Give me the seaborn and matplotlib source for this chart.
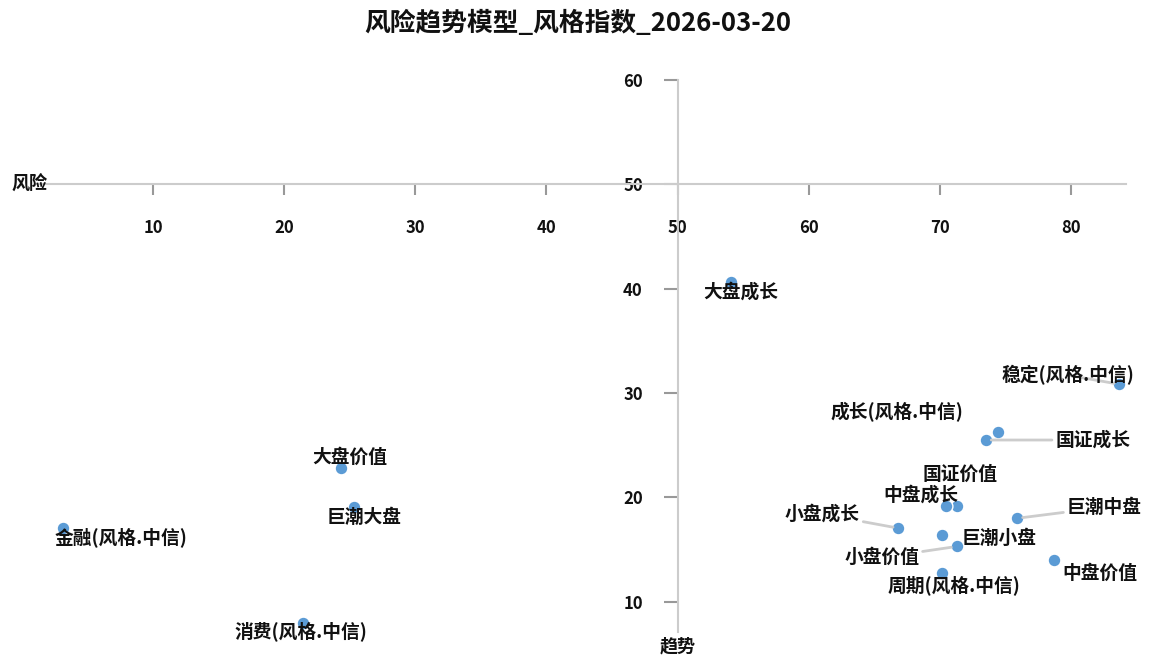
import pandas as pd
import matplotlib
matplotlib.use('Agg')
import matplotlib.pyplot as plt
import seaborn as sns

# 风格指数 数据
names = ['大盘成长', '稳定(风格.中信)', '成长(风格.中信)', '国证成长', '国证价值', '中盘成长',
         '小盘成长', '巨潮中盘', '巨潮小盘', '小盘价值', '周期(风格.中信)', '中盘价值',
         '大盘价值', '巨潮大盘', '金融(风格.中信)', '消费(风格.中信)']
trend = [54.1, 83.7, 74.4, 73.5, 71.3, 70.5, 66.85, 75.9, 70.2, 71.3, 70.15, 78.7,
         24.3, 25.3, 3.15, 21.46]
risk = [40.6, 30.84, 26.25, 25.5, 19.2, 19.2, 17.05, 18.0, 16.4, 15.3, 12.8, 14.0,
        22.8, 19.1, 17.05, 8.0]
x_ticks = [10, 20, 30, 40, 50, 60, 70, 80]
y_ticks = [10, 20, 30, 40, 50, 60]

# 标签偏移(像素)
offsets = {
    '大盘成长': (9, -10), '稳定(风格.中信)': (-51, 9), '成长(风格.中信)': (-101, 20),
    '国证成长': (107, 0), '国证价值': (3, 31), '中盘成长': (-25, 11), '小盘成长': (-76, 14),
    '巨潮中盘': (87, 11), '巨潮小盘': (57, -3), '小盘价值': (-75, -11),
    '周期(风格.中信)': (12, -13), '中盘价值': (46, -13), '大盘价值': (9, 11),
    '巨潮大盘': (10, -11), '金融(风格.中信)': (58, -9), '消费(风格.中信)': (-2, -9),
}
leaders = ['稳定(风格.中信)', '国证成长', '小盘成长', '巨潮中盘', '小盘价值']

df = pd.DataFrame({'name': names, 'trend': trend, 'risk': risk})

sns.set_style('white')
plt.rcParams['font.family'] = ['Noto Sans CJK SC', 'DejaVu Sans']

fig = plt.figure(figsize=(11.55, 6.55), dpi=100)
ax = fig.add_axes([0.0303, 0.0351, 0.9446, 0.8427])
sns.scatterplot(x='trend', y='risk', data=df, ax=ax, s=85, color='#5b9bd5',
                edgecolor='white', linewidth=1, zorder=3)
ax.set_xlim(1, 84.2)
ax.set_ylim(7.1, 60)

for sp in ['top', 'right']:
    ax.spines[sp].set_visible(False)
ax.spines['bottom'].set_position(('data', 50))
ax.spines['left'].set_position(('data', 50))
for sp in ['bottom', 'left']:
    ax.spines[sp].set_color('#cccccc')
    ax.spines[sp].set_linewidth(1.5)
ax.set_xticks(x_ticks)
ax.set_yticks(y_ticks)
ax.tick_params(axis='x', bottom=True, direction='out', length=8, width=1.5, color='#999999',
               pad=17, labelsize=12, labelcolor='#111111')
ax.tick_params(axis='y', left=True, direction='out', length=10, width=1.5, color='#999999',
               pad=15, labelsize=12, labelcolor='#111111')
for t in ax.get_xticklabels() + ax.get_yticklabels():
    t.set_fontweight('bold')
ax.set_xlabel('')
ax.set_ylabel('')

for n, x, y in zip(names, trend, risk):
    dx, dy = offsets[n]
    arrow = dict(arrowstyle='-', color='#cccccc', lw=2, shrinkA=0, shrinkB=4) if n in leaders else None
    ax.annotate(n, (x, y), xytext=(dx, dy), textcoords='offset pixels', ha='center', va='center',
                fontsize=13.5, fontweight='bold', color='#111111', arrowprops=arrow, zorder=4)

ax.text(0.6, 50, '风险', ha='center', va='center', fontsize=13, fontweight='bold', color='#111111')
ax.annotate('趋势', (50, 7.1), xytext=(0, -4), textcoords='offset pixels', ha='center', va='top',
            fontsize=13, fontweight='bold', color='#111111', annotation_clip=False)
fig.suptitle('风险趋势模型_风格指数_2026-03-20', x=0.5, y=0.985, fontsize=18.5, fontweight='bold',
             color='#111111')

fig.savefig('out.png', dpi=100)
